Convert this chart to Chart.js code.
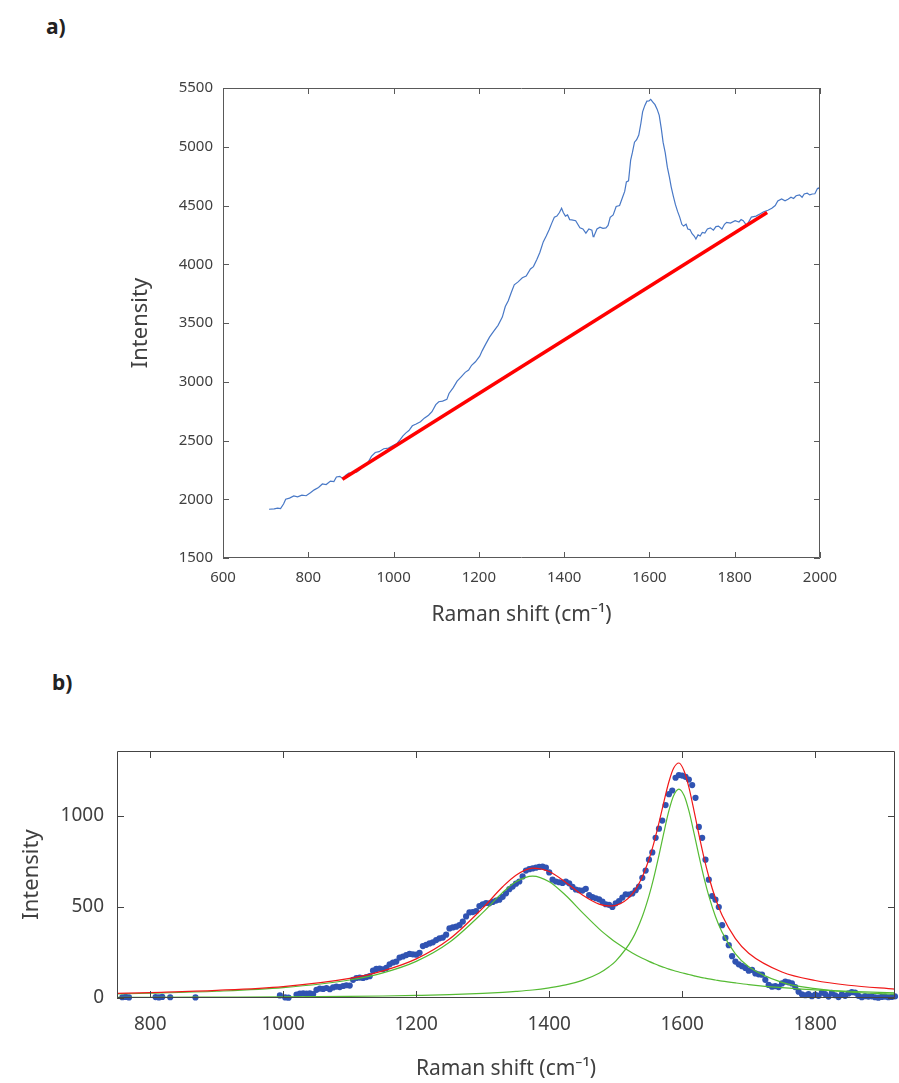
<!DOCTYPE html>
<html>
<head>
<meta charset="utf-8" />
<title>Raman spectra</title>
<style>
  body { margin: 0; background: #fff; width: 899px; height: 1083px; position: relative; overflow: hidden; font-family: "Noto Sans", "Open Sans", sans-serif; }
  .tag { position: absolute; font-weight: bold; font-size: 21px; color: #222; line-height: 1; }
  .box { position: absolute; left: 0; }
</style>
</head>
<body>

<div class="tag" style="left:46px; top:16px;">a)</div>
<div class="tag" style="left:52px; top:672px;">b)</div>

<div class="box" style="top:0;"><canvas id="chartA" width="899" height="650"></canvas></div>
<div class="box" style="top:650px;"><canvas id="chartB" width="899" height="433"></canvas></div>

<script src="https://cdn.jsdelivr.net/npm/chart.js"></script>
<script>
// ---- a) raw spectrum + linear baseline ----
const spectrumX = [708, 720, 728, 735, 742, 747, 756, 766, 775, 785, 795, 805, 814, 824, 833, 842, 852, 860, 866, 874,
  881, 888, 895, 905, 914, 922, 929, 938, 948, 957, 966, 977, 988, 1000, 1008, 1015, 1022, 1029, 1036, 1044,
  1053, 1063, 1072, 1082, 1090, 1099, 1106, 1115, 1125, 1130, 1140, 1149, 1158, 1168, 1176, 1183, 1192, 1202, 1208, 1216,
  1225, 1235, 1245, 1255, 1262, 1269, 1276, 1283, 1292, 1302, 1311, 1321, 1328, 1336, 1343, 1351, 1358, 1365, 1371, 1377,
  1383, 1389, 1394, 1398, 1403, 1408, 1413, 1418, 1427, 1437, 1444, 1451, 1458, 1465, 1468, 1470, 1477, 1484, 1491, 1498,
  1503, 1508, 1515, 1522, 1530, 1537, 1542, 1546, 1551, 1556, 1560, 1565, 1570, 1575, 1580, 1584, 1589, 1594, 1599, 1603,
  1608, 1613, 1618, 1623, 1628, 1632, 1637, 1642, 1647, 1651, 1656, 1661, 1666, 1671, 1676, 1680, 1686, 1690, 1695, 1700,
  1705, 1709, 1714, 1719, 1724, 1730, 1736, 1743, 1750, 1756, 1762, 1770, 1776, 1781, 1790, 1801, 1810, 1815, 1820, 1828,
  1839, 1850, 1860, 1868, 1878, 1887, 1895, 1901, 1910, 1918, 1925, 1932, 1938, 1944, 1952, 1958, 1963, 1970, 1976, 1982,
  1988, 1994, 1998, 2000];
const spectrumY = [1915, 1918, 1925, 1920, 1960, 2000, 2010, 2028, 2020, 2035, 2030, 2055, 2080, 2100, 2130, 2125, 2155, 2150, 2190, 2195,
  2175, 2205, 2222, 2225, 2232, 2255, 2290, 2300, 2365, 2398, 2405, 2430, 2435, 2460, 2475, 2505, 2540, 2565, 2585, 2625,
  2640, 2660, 2690, 2715, 2745, 2805, 2830, 2835, 2850, 2900, 2950, 3005, 3040, 3080, 3100, 3140, 3170, 3218, 3265, 3320,
  3380, 3430, 3480, 3550, 3640, 3690, 3760, 3825, 3850, 3885, 3900, 3960, 3980, 4040, 4100, 4190, 4240, 4295, 4350, 4400,
  4410, 4440, 4477, 4440, 4410, 4420, 4380, 4378, 4370, 4310, 4300, 4265, 4300, 4290, 4235, 4240, 4300, 4316, 4305, 4310,
  4330, 4400, 4420, 4492, 4500, 4570, 4620, 4700, 4710, 4887, 4950, 5039, 5060, 5100, 5200, 5297, 5350, 5388, 5390, 5403,
  5380, 5358, 5320, 5267, 5150, 5039, 4950, 4826, 4740, 4659, 4580, 4507, 4450, 4401, 4340, 4325, 4340, 4300, 4295, 4260,
  4240, 4215, 4250, 4240, 4270, 4265, 4300, 4310, 4290, 4320, 4325, 4300, 4340, 4356, 4350, 4371, 4360, 4380, 4371, 4330,
  4401, 4410, 4430, 4447, 4460, 4477, 4500, 4538, 4555, 4540, 4553, 4570, 4560, 4583, 4590, 4570, 4598, 4605, 4590, 4598,
  4600, 4644, 4650, 4620];
const baselineX = [880, 1876];
const baselineY = [2170, 4440];
const xTicksA = [600, 800, 1000, 1200, 1400, 1600, 1800, 2000];
const yTicksA = [1500, 2000, 2500, 3000, 3500, 4000, 4500, 5000, 5500];

// ---- b) baseline-corrected data + two-band fit ----
const dotsX = [758, 763, 768, 808, 813, 818, 830, 868, 995, 1003, 1008,
  1020, 1025, 1030, 1035, 1040, 1045, 1050, 1055, 1060, 1065,
  1070, 1075, 1080, 1085, 1090, 1095, 1100, 1105, 1110, 1115,
  1120, 1125, 1130, 1135, 1140, 1145, 1150, 1155, 1160, 1165,
  1170, 1175, 1180, 1185, 1190, 1195, 1200, 1205, 1210, 1215,
  1220, 1225, 1230, 1235, 1240, 1245, 1250, 1255, 1260, 1265,
  1270, 1275, 1280, 1285, 1290, 1295, 1300, 1305, 1310, 1315,
  1320, 1325, 1330, 1335, 1340, 1345, 1350, 1355, 1360, 1365,
  1370, 1375, 1380, 1385, 1390, 1395, 1400, 1405, 1410, 1415,
  1420, 1425, 1430, 1435, 1440, 1445, 1450, 1455, 1460, 1465,
  1470, 1475, 1480, 1485, 1490, 1495, 1500, 1505, 1510, 1515,
  1520, 1525, 1530, 1535, 1540, 1545, 1550, 1555, 1560, 1565,
  1570, 1575, 1580, 1585, 1590, 1595, 1600, 1605, 1610, 1615,
  1620, 1625, 1630, 1635, 1640, 1645, 1650, 1655, 1660, 1665,
  1670, 1675, 1680, 1685, 1690, 1695, 1700, 1705, 1710, 1715,
  1720, 1725, 1730, 1735, 1740, 1745, 1750, 1755, 1760, 1765,
  1770, 1775, 1780, 1785, 1790, 1795, 1800, 1805, 1810, 1815,
  1820, 1825, 1830, 1835, 1840, 1845, 1850, 1855, 1860, 1865,
  1870, 1875, 1880, 1885, 1890, 1895, 1900, 1905, 1910, 1915, 1920];
const dotsY = [4, 6, 3, 5, 3, 6, 4, 3, 14, 3, 2,
  18, 24, 26, 24, 25, 22, 45, 52, 50, 55,
  48, 58, 63, 60, 66, 70, 68, 100, 110, 112,
  110, 115, 120, 150, 160, 162, 158, 165, 185, 195,
  200, 222, 228, 236, 242, 240, 238, 248, 285, 292,
  300, 306, 318, 328, 332, 348, 382, 388, 392, 400,
  420, 448, 470, 472, 478, 505, 515, 522, 520, 528,
  535, 540, 556, 575, 598, 612, 628, 640, 668, 700,
  708, 712, 716, 720, 722, 716, 690, 650, 640, 636,
  632, 640, 630, 610, 596, 592, 590, 600, 565, 555,
  548, 542, 530, 515, 512, 500, 520, 532, 552, 570,
  568, 574, 592, 612, 660, 700, 760, 800, 880, 930,
  975, 1060, 1120, 1140, 1210, 1225, 1222, 1215, 1200, 1170,
  1100, 940, 880, 760, 650, 560, 540, 500, 400, 330,
  290, 230, 200, 185, 175, 165, 150, 155, 135, 130,
  128, 100, 72, 62, 65, 60, 80, 90, 86, 80,
  60, 35, 20, 15, 22, 10, 18, 12, 30, 22,
  8, 28, 15, 5, 20, 12, 25, 32, 30, 12,
  4, 10, 8, 9, 4, 2, 6, 8, 4, 6, 9];

const fitX = [750, 800, 900, 1000, 1100, 1150, 1200, 1250, 1300, 1330, 1350, 1375, 1400, 1425, 1450, 1475, 1490, 1500, 1525, 1540,
  1550, 1557, 1565, 1572, 1580, 1587, 1595, 1603, 1610, 1618, 1625, 1633, 1640, 1650, 1660, 1680, 1700, 1750, 1800, 1850, 1920];
const bandD = [22, 26, 37, 57, 99, 138, 201, 306, 469, 580, 639, 670, 639, 563, 469, 380, 334, 306, 247, 218,
  201, 190, 178, 169, 159, 151, 143, 135, 129, 122, 116, 110, 105, 99, 93, 83, 74, 57, 45, 37, 28];
const bandG = [3, 4, 5, 6, 9, 11, 14, 18, 25, 31, 36, 44, 56, 72, 97, 136, 172, 203, 325, 448,
  561, 657, 784, 902, 1029, 1111, 1148, 1111, 1029, 902, 784, 657, 561, 448, 361, 243, 172, 86, 51, 33, 21];
const fitSum = [25, 30, 42, 63, 108, 149, 215, 324, 494, 611, 675, 714, 695, 635, 566, 516, 506, 509, 572, 666,
  762, 847, 962, 1071, 1188, 1262, 1291, 1246, 1158, 1024, 900, 767, 666, 547, 454, 326, 246, 143, 96, 70, 49];
const xTicksB = [800, 1000, 1200, 1400, 1600, 1800];
const yTicksB = [0, 500, 1000];

Chart.defaults.font.family = '"Noto Sans", "Open Sans", sans-serif';
Chart.defaults.color = '#404040';

function pts(xs, ys) {
  return xs.map((v, i) => ({ x: v, y: ys[i] }));
}

// plain numbers, no thousands separator
const plain = v => String(v);

// frame round the plot area with short ticks pointing inwards
const boxTicks = {
  id: 'boxTicks',
  afterDatasetsDraw(chart, args, opts) {
    const { ctx, chartArea: a, scales: { x, y } } = chart;
    const len = opts.len;
    ctx.save();
    ctx.strokeStyle = opts.color;
    ctx.lineWidth = 1;
    ctx.beginPath();
    ctx.rect(Math.round(a.left) + 0.5, Math.round(a.top) + 0.5, Math.round(a.width) - 1, Math.round(a.height) - 1);
    x.ticks.forEach(t => {
      const px = Math.round(x.getPixelForValue(t.value)) + 0.5;
      ctx.moveTo(px, a.top); ctx.lineTo(px, a.top + len);
      ctx.moveTo(px, a.bottom); ctx.lineTo(px, a.bottom - len);
    });
    y.ticks.forEach(t => {
      const py = Math.round(y.getPixelForValue(t.value)) + 0.5;
      ctx.moveTo(a.left, py); ctx.lineTo(a.left + len, py);
      ctx.moveTo(a.right, py); ctx.lineTo(a.right - len, py);
    });
    ctx.stroke();
    ctx.restore();
  }
};

// a)
new Chart(document.getElementById('chartA'), {
  type: 'line',
  data: {
    datasets: [
      { data: pts(baselineX, baselineY), borderColor: '#ff0000', borderWidth: 3.5, pointRadius: 0 },
      { data: pts(spectrumX, spectrumY), borderColor: '#4878c6', borderWidth: 1.2, pointRadius: 0, tension: 0 }
    ]
  },
  options: {
    responsive: false,
    animation: false,
    events: [],
    layout: { padding: { left: 0, top: 88, right: 79, bottom: 0 } },
    plugins: { legend: { display: false }, tooltip: { enabled: false }, boxTicks: { color: '#595959', len: 6 } },
    scales: {
      x: {
        type: 'linear', min: 600, max: 2000,
        grid: { display: false, drawTicks: false }, border: { display: false },
        afterBuildTicks: s => { s.ticks = xTicksA.map(v => ({ value: v })); },
        afterFit: s => { s.height = 92; },
        ticks: { padding: 11, maxRotation: 0, autoSkip: false, font: { size: 15 }, callback: plain },
        title: { display: true, text: 'Raman shift (cm\u207B\u00B9)', font: { size: 21 }, padding: { top: 0, bottom: 22 } }
      },
      y: {
        type: 'linear', min: 1500, max: 5500,
        grid: { display: false, drawTicks: false }, border: { display: false },
        afterBuildTicks: s => { s.ticks = yTicksA.map(v => ({ value: v })); },
        afterFit: s => { s.width = 223; },
        ticks: { padding: 10, font: { size: 15 }, callback: plain },
        title: { display: true, text: 'Intensity', font: { size: 22 }, padding: { top: 128, bottom: 0 } }
      }
    }
  },
  plugins: [boxTicks]
});

// b)
new Chart(document.getElementById('chartB'), {
  type: 'line',
  data: {
    datasets: [
      { data: pts(fitX, fitSum), borderColor: '#f01818', borderWidth: 1.2, pointRadius: 0, cubicInterpolationMode: 'monotone' },
      { data: pts(fitX, bandD), borderColor: '#55bb33', borderWidth: 1.2, pointRadius: 0, cubicInterpolationMode: 'monotone' },
      { data: pts(fitX, bandG), borderColor: '#55bb33', borderWidth: 1.2, pointRadius: 0, cubicInterpolationMode: 'monotone' },
      { data: pts(dotsX, dotsY), showLine: false, pointRadius: 3.1, pointBorderWidth: 0, pointBackgroundColor: '#3053b2', clip: 3 }
    ]
  },
  options: {
    responsive: false,
    animation: false,
    events: [],
    layout: { padding: { left: 0, top: 101, right: 1, bottom: 0 } },
    plugins: { legend: { display: false }, tooltip: { enabled: false }, boxTicks: { color: '#444444', len: 7 } },
    scales: {
      x: {
        type: 'linear', min: 750, max: 1920,
        grid: { display: false, drawTicks: false }, border: { display: false },
        afterBuildTicks: s => { s.ticks = xTicksB.map(v => ({ value: v })); },
        afterFit: s => { s.height = 85; },
        ticks: { padding: 15, maxRotation: 0, autoSkip: false, font: { size: 19 }, callback: plain },
        title: { display: true, text: 'Raman shift (cm\u207B\u00B9)', font: { size: 21 }, padding: { top: 0, bottom: 1 } }
      },
      y: {
        type: 'linear', min: 0, max: 1357,
        grid: { display: false, drawTicks: false }, border: { display: false },
        afterBuildTicks: s => { s.ticks = yTicksB.map(v => ({ value: v })); },
        afterFit: s => { s.width = 117; },
        ticks: { padding: 13, font: { size: 19 }, callback: plain },
        title: { display: true, text: 'Intensity', font: { size: 22 }, padding: { top: 19, bottom: 0 } }
      }
    }
  },
  plugins: [boxTicks]
});
</script>
</body>
</html>
